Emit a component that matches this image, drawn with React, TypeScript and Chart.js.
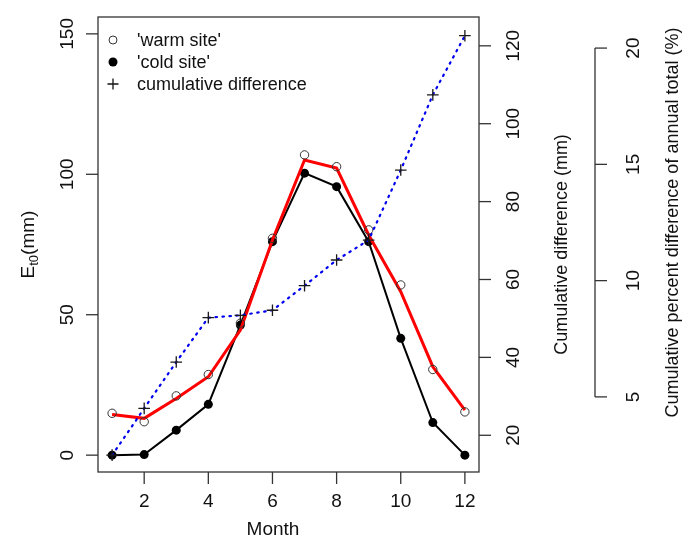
import React, { useEffect, useRef } from "react";
import { Chart, registerables } from "chart.js";

Chart.register(...registerables);

// ---- data ----
const months = [1, 2, 3, 4, 5, 6, 7, 8, 9, 10, 11, 12];
const warmSite = [14.9, 11.9, 21.1, 28.7, 47.0, 77.2, 106.9, 102.7, 80.2, 60.6, 30.5, 15.4];
const warmSiteLine = [14.5, 13.1, 20.2, 27.9, 44.5, 76.6, 105.1, 102.2, 78.4, 58.2, 31.5, 16.0];
const coldSite = [0.0, 0.2, 8.9, 18.1, 46.3, 76.0, 100.4, 95.6, 76.0, 41.6, 11.6, 0.0];
const cumulativeDifference = [14.9, 26.9, 38.8, 50.2, 50.8, 52.1, 58.4, 65.0, 70.1, 88.1, 107.4, 122.6];

const xTicks = [2, 4, 6, 8, 10, 12];
const leftTicks = [0, 50, 100, 150];
const cumTicks = [20, 40, 60, 80, 100, 120];
const percentTicks = [5, 10, 15, 20];

const annualTotal = warmSite.reduce((a, b) => a + b, 0);

const cumMin = 10.57;
const cumMax = 127.4;

const FONT = '"Liberation Sans", Arial, Helvetica, sans-serif';

const toXY = (arr: number[]) => months.map((m, i) => ({ x: m, y: arr[i] }));

function rotText(ctx: CanvasRenderingContext2D, text: string, x: number, y: number) {
  ctx.save();
  ctx.translate(x, y);
  ctx.rotate(-Math.PI / 2);
  ctx.textAlign = "center";
  ctx.textBaseline = "middle";
  ctx.fillText(text, 0, 0);
  ctx.restore();
}

const axesPlugin = {
  id: "rAxes",
  afterDraw(chart: any) {
    const ctx: CanvasRenderingContext2D = chart.ctx;
    const { left, right, top, bottom } = chart.chartArea;
    const xs = chart.scales.x;
    const yL = chart.scales.y;
    const yC = chart.scales.y2;
    const yP = chart.scales.y3;
    ctx.save();
    ctx.strokeStyle = "#333";
    ctx.fillStyle = "#111";
    ctx.lineWidth = 1.3;
    // box
    ctx.strokeRect(left, top, right - left, bottom - top);

    const tickFont = `19px ${FONT}`;
    ctx.font = tickFont;
    // x axis
    xs.ticks.forEach((t: any) => {
      const px = xs.getPixelForValue(t.value);
      ctx.beginPath();
      ctx.moveTo(px, bottom);
      ctx.lineTo(px, bottom + 12);
      ctx.stroke();
      ctx.textAlign = "center";
      ctx.textBaseline = "middle";
      ctx.fillText(String(t.value), px, 502);
    });
    // left axis
    yL.ticks.forEach((t: any) => {
      const py = yL.getPixelForValue(t.value);
      ctx.beginPath();
      ctx.moveTo(left, py);
      ctx.lineTo(left - 12, py);
      ctx.stroke();
      rotText(ctx, String(t.value), 68, py);
    });
    // right cumulative axis
    yC.ticks.forEach((t: any) => {
      const py = yC.getPixelForValue(t.value);
      ctx.beginPath();
      ctx.moveTo(right, py);
      ctx.lineTo(right + 12, py);
      ctx.stroke();
      rotText(ctx, String(t.value), 514, py);
    });
    // percent axis
    const axX = 595;
    const pTop = yP.getPixelForValue(percentTicks[percentTicks.length - 1]);
    const pBot = yP.getPixelForValue(percentTicks[0]);
    ctx.beginPath();
    ctx.moveTo(axX, pBot);
    ctx.lineTo(axX, pTop);
    ctx.stroke();
    yP.ticks.forEach((t: any) => {
      const py = yP.getPixelForValue(t.value);
      ctx.beginPath();
      ctx.moveTo(axX, py);
      ctx.lineTo(axX + 12, py);
      ctx.stroke();
      rotText(ctx, String(t.value), 634, py);
    });

    // titles
    ctx.font = `19px ${FONT}`;
    ctx.textAlign = "center";
    ctx.textBaseline = "middle";
    ctx.fillText("Month", 273, 530);
    ctx.font = `18px ${FONT}`;
    rotText(ctx, "Cumulative difference (mm)", 562, (top + bottom) / 2);
    rotText(ctx, "Cumulative percent difference of annual total (%)", 673, (pTop + pBot) / 2);

    // E_t0(mm)
    ctx.save();
    ctx.translate(27, (top + bottom) / 2);
    ctx.rotate(-Math.PI / 2);
    const big = `19px ${FONT}`;
    const small = `13px ${FONT}`;
    ctx.font = big;
    const w1 = ctx.measureText("E").width;
    const w3 = ctx.measureText("(mm)").width;
    ctx.font = small;
    const w2 = ctx.measureText("t0").width;
    let sx = -(w1 + w2 + w3) / 2;
    ctx.textAlign = "left";
    ctx.textBaseline = "alphabetic";
    ctx.font = big;
    ctx.fillText("E", sx, 7);
    sx += w1;
    ctx.font = small;
    ctx.fillText("t0", sx, 11);
    sx += w2;
    ctx.font = big;
    ctx.fillText("(mm)", sx, 7);
    ctx.restore();

    // legend
    const ds = chart.data.datasets;
    const items = [ds[1], ds[3], ds[0]];
    const rows = [40, 62, 84];
    ctx.font = `18px ${FONT}`;
    ctx.textAlign = "left";
    ctx.textBaseline = "middle";
    items.forEach((d: any, i: number) => {
      const cy = rows[i];
      const cx = 113;
      ctx.beginPath();
      if (i === 0) {
        ctx.strokeStyle = "#333";
        ctx.lineWidth = 1;
        ctx.arc(cx, cy, 4, 0, Math.PI * 2);
        ctx.stroke();
      } else if (i === 1) {
        ctx.fillStyle = "#000";
        ctx.arc(cx, cy, 4.5, 0, Math.PI * 2);
        ctx.fill();
      } else {
        ctx.strokeStyle = "#111";
        ctx.lineWidth = 1.3;
        ctx.moveTo(cx - 5.5, cy);
        ctx.lineTo(cx + 5.5, cy);
        ctx.moveTo(cx, cy - 5.5);
        ctx.lineTo(cx, cy + 5.5);
        ctx.stroke();
      }
      ctx.fillStyle = "#111";
      ctx.fillText(d.label, 137, cy + 1);
    });
    ctx.restore();
  },
};

export default function App() {
  const ref = useRef<HTMLCanvasElement | null>(null);
  useEffect(() => {
    if (!ref.current) return;
    const chart = new Chart(ref.current, {
      type: "line",
      data: {
        datasets: [
          {
            label: "cumulative difference",
            data: toXY(cumulativeDifference),
            yAxisID: "y2",
            borderColor: "#0000ee",
            borderWidth: 2.2,
            borderDash: [1.5, 5.5],
            borderCapStyle: "round",
            pointStyle: "cross",
            pointRadius: 5.8,
            pointBorderColor: "#1a1a1a",
            pointBorderWidth: 1.3,
            fill: false,
            tension: 0,
          } as any,
          {
            label: "'warm site'",
            data: toXY(warmSite),
            yAxisID: "y",
            showLine: false,
            pointStyle: "circle",
            pointRadius: 4.2,
            pointBackgroundColor: "rgba(0,0,0,0)",
            pointBorderColor: "#333",
            pointBorderWidth: 1,
          },
          {
            label: "warm site line",
            data: toXY(warmSiteLine),
            yAxisID: "y",
            borderColor: "#ff0000",
            borderWidth: 3,
            pointRadius: 0,
            tension: 0,
          },
          {
            label: "'cold site'",
            data: toXY(coldSite),
            yAxisID: "y",
            borderColor: "#000",
            borderWidth: 2,
            pointRadius: 4.5,
            pointBackgroundColor: "#000",
            pointBorderColor: "#000",
            pointBorderWidth: 0,
            tension: 0,
          },
        ],
      },
      options: {
        animation: false,
        responsive: false,
        devicePixelRatio: 1,
        layout: { padding: { left: 98, top: 17, right: 215, bottom: 67 } },
        plugins: { legend: { display: false }, tooltip: { enabled: false } },
        scales: {
          x: {
            type: "linear",
            min: 0.56,
            max: 12.44,
            display: false,
            afterBuildTicks: (s: any) => {
              s.ticks = xTicks.map((v) => ({ value: v }));
            },
          },
          y: {
            type: "linear",
            min: -6,
            max: 156,
            display: false,
            afterBuildTicks: (s: any) => {
              s.ticks = leftTicks.map((v) => ({ value: v }));
            },
          },
          y2: {
            type: "linear",
            min: cumMin,
            max: cumMax,
            display: false,
            afterBuildTicks: (s: any) => {
              s.ticks = cumTicks.map((v) => ({ value: v }));
            },
          },
          y3: {
            type: "linear",
            min: (cumMin * 100) / annualTotal,
            max: (cumMax * 100) / annualTotal,
            display: false,
            afterBuildTicks: (s: any) => {
              s.ticks = percentTicks.map((v) => ({ value: v }));
            },
          },
        },
      },
      plugins: [axesPlugin],
    });
    return () => chart.destroy();
  }, []);
  return (
    <div style={{ position: "absolute", left: 0, top: 0, width: 694, height: 539, background: "#fff" }}>
      <canvas ref={ref} width={694} height={539} style={{ width: 694, height: 539 }} />
    </div>
  );
}
